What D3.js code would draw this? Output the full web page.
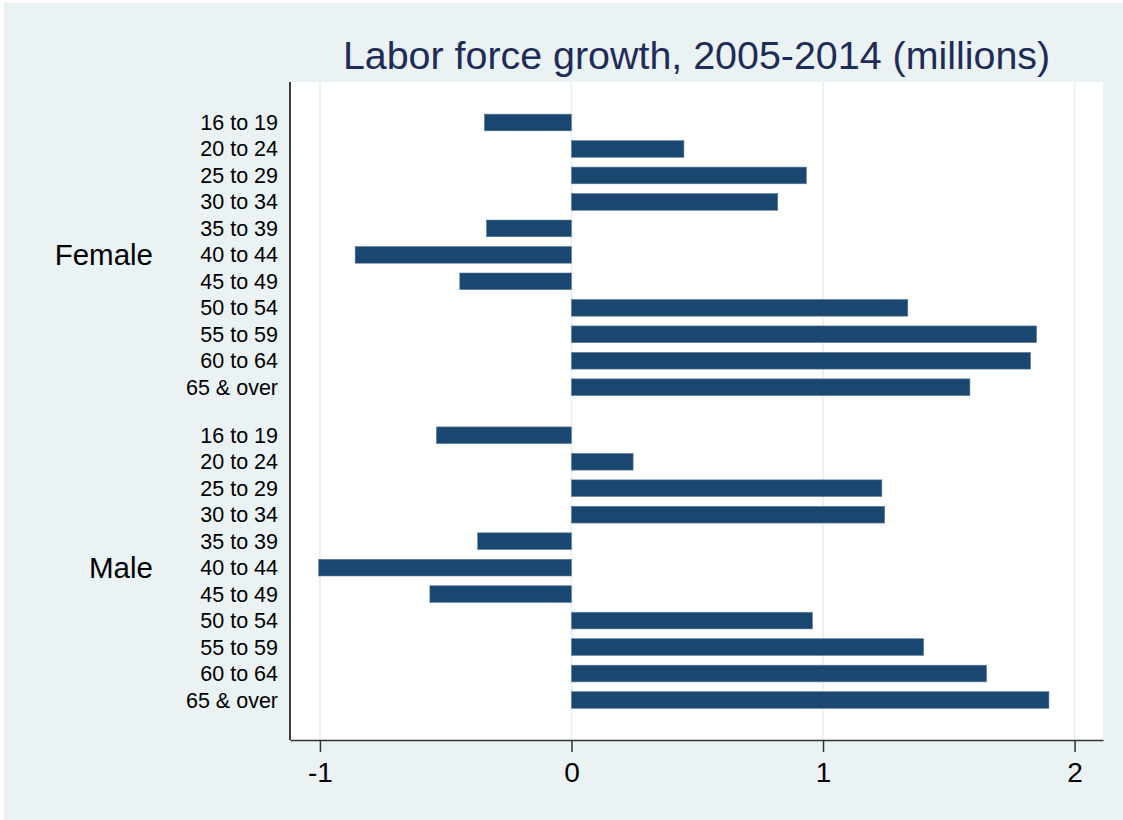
<!DOCTYPE html>
<html lang="en">
<head>
  <meta charset="UTF-8">
  <title>Labor force growth, 2005-2014</title>
  <style>
    body { margin: 0; background: #fff; }
    text { font-family: "Liberation Sans", Arial, Helvetica, sans-serif; }
  </style>
</head>
<body>
  <div id="chart"></div>
  <script src="https://d3js.org/d3.v7.min.js"></script>
  <script>
    // Data (millions)
    const groups = ["Female", "Male"];
    const ages = ["16 to 19", "20 to 24", "25 to 29", "30 to 34", "35 to 39", "40 to 44",
                  "45 to 49", "50 to 54", "55 to 59", "60 to 64", "65 & over"];
    const female = [-0.346, 0.447, 0.934, 0.820, -0.338, -0.860, -0.444, 1.337, 1.849, 1.825, 1.584];
    const male   = [-0.537, 0.245, 1.234, 1.245, -0.373, -1.005, -0.563, 0.958, 1.400, 1.650, 1.898];
    const xTicks = [-1, 0, 1, 2];

    const width = 1123, height = 820;
    const plot = { left: 290, right: 1103, top: 82, bottom: 740 };
    const groupGap = 0.815;   // extra space between the two groups, in bar steps

    const rows = [];
    [female, male].forEach((vals, g) => {
      vals.forEach((v, i) => {
        rows.push({ group: groups[g], age: ages[i], value: v, g, i, pos: g * (ages.length + groupGap) + i });
      });
    });
    const lastPos = d3.max(rows, d => d.pos);

    const svg = d3.select("#chart").append("svg")
      .attr("width", width)
      .attr("height", height);

    // graph background
    svg.append("rect")
      .attr("x", 4).attr("y", 3)
      .attr("width", width - 4).attr("height", height - 3)
      .attr("fill", "#eaf2f3");

    // plot region
    svg.append("rect")
      .attr("x", plot.left).attr("y", plot.top)
      .attr("width", plot.right - plot.left).attr("height", plot.bottom - plot.top)
      .attr("fill", "#fff");

    const x = d3.scaleLinear().domain([-1.119, 2.113]).range([plot.left, plot.right]);
    const y = d3.scaleLinear().domain([0, lastPos]).range([122.5, 700]);
    const barH = 16.7;

    // grid lines
    svg.append("g").selectAll("line")
      .data(xTicks)
      .join("line")
      .attr("x1", d => x(d)).attr("x2", d => x(d))
      .attr("y1", plot.top).attr("y2", plot.bottom)
      .attr("stroke", "#eaf2f3")
      .attr("stroke-width", 2);

    // bars
    svg.append("g").selectAll("rect")
      .data(rows)
      .join("rect")
      .attr("x", d => x(Math.min(0, d.value)))
      .attr("width", d => Math.abs(x(d.value) - x(0)))
      .attr("y", d => y(d.pos) - barH / 2)
      .attr("height", barH)
      .attr("fill", "#1a476f")
      .attr("stroke", "#5f7f9c")
      .attr("stroke-width", 0.6);

    // age labels
    svg.append("g").selectAll("text")
      .data(rows)
      .join("text")
      .attr("x", 278)
      .attr("y", d => y(d.pos))
      .attr("dy", "0.35em")
      .attr("text-anchor", "end")
      .attr("font-size", 21.5)
      .attr("fill", "#000")
      .text(d => d.age);

    // group labels, centred on the middle age class
    svg.append("g").selectAll("text")
      .data(groups)
      .join("text")
      .attr("x", 153)
      .attr("y", (d, g) => y(g * (ages.length + groupGap) + (ages.length - 1) / 2))
      .attr("dy", "0.35em")
      .attr("text-anchor", "end")
      .attr("font-size", 29.5)
      .attr("fill", "#000")
      .text(d => d);

    // left axis line
    svg.append("line")
      .attr("x1", plot.left).attr("x2", plot.left)
      .attr("y1", plot.top).attr("y2", plot.bottom)
      .attr("stroke", "#000")
      .attr("stroke-width", 1.5);

    // bottom axis
    const xAxis = svg.append("g")
      .attr("transform", `translate(0,${plot.bottom})`)
      .call(d3.axisBottom(x).tickValues(xTicks).tickFormat(d => String(d))
        .tickSize(12).tickPadding(10).tickSizeOuter(0));
    xAxis.select(".domain").attr("stroke", "#333").attr("stroke-width", 1.5);
    xAxis.selectAll(".tick line").attr("stroke", "#333").attr("stroke-width", 1.5);
    xAxis.selectAll(".tick text")
      .attr("font-size", 28)
      .attr("font-family", "Liberation Sans, Arial, sans-serif")
      .attr("fill", "#000");

    // title
    svg.append("text")
      .attr("x", (plot.left + plot.right) / 2)
      .attr("y", 69)
      .attr("text-anchor", "middle")
      .attr("font-size", 39.4)
      .attr("fill", "#1e2c57")
      .text("Labor force growth, 2005-2014 (millions)");
  </script>
</body>
</html>
